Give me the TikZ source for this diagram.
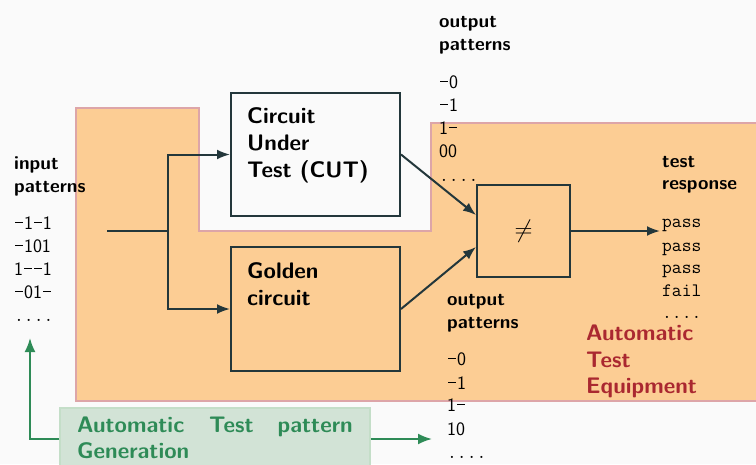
\documentclass[tikz,border=0pt]{standalone}
\usepackage{fontspec}
\usetikzlibrary{arrows.meta,calc}

\definecolor{bgc}{HTML}{FAFAFA}
\definecolor{atefill}{RGB}{252,205,148}
\definecolor{ateedge}{RGB}{221,165,168}
\definecolor{ink}{HTML}{23373B}
\definecolor{atetext}{RGB}{170,40,48}
\definecolor{atpgtext}{RGB}{46,139,87}
\definecolor{atpgfill}{RGB}{210,227,214}
\definecolor{atpgedge}{RGB}{196,222,200}

% a "don't care" dash of the width of a digit
\newcommand\dc{\makebox[0.52em]{\rule[0.3em]{0.4em}{0.07em}}}

\tikzset{
  heading/.style={anchor=base west, inner sep=0pt, text=black,
    font=\fontsize{19}{22}\selectfont\sffamily\bfseries},
  patline/.style={anchor=base west, inner sep=0pt, text=black,
    font=\fontsize{19}{22}\selectfont\sffamily},
  respline/.style={anchor=base west, inner sep=0pt, text=black,
    font=\fontsize{19}{22}\selectfont\ttfamily},
  boxtext/.style={anchor=base west, inner sep=0pt, text=black,
    font=\fontsize{22.5}{27}\selectfont\sffamily\bfseries},
  atetitle/.style={anchor=base west, inner sep=0pt, text=atetext,
    font=\fontsize{22.5}{27}\selectfont\sffamily\bfseries},
  atpgtitle/.style={inner sep=0pt, text=atpgtext,
    font=\fontsize{22.5}{27}\selectfont\sffamily\bfseries},
  block/.style={draw=ink, line width=2pt, rectangle, inner sep=0pt},
  wire/.style={draw=ink, line width=2pt},
  arr/.style={-{Latex[length=13pt,width=10pt]}},
  gwire/.style={draw=atpgtext, line width=2pt, -{Latex[length=14pt,width=11pt]}},
}

\begin{document}
\begin{tikzpicture}[x=1pt,y=-1pt]
\clip (0,0) rectangle (756,464);
\fill[bgc] (0,0) rectangle (756,464);
\useasboundingbox (0,0) rectangle (756,464);

% automatic test equipment region
\draw[ateedge, line width=1.5pt, fill=atefill]
  (76,108) -- (199,108) -- (199,231) -- (431,231) -- (431,123)
  -- (770,123) -- (770,401) -- (76,401) -- cycle;

% blocks
\node[block, fill=bgc, minimum width=169pt, minimum height=123pt] (cut) at (315.5,154.5) {};
\node[block, minimum width=169pt, minimum height=124pt] (gold) at (315.5,309) {};
\node[block, minimum width=93pt, minimum height=92pt] (cmp) at (523.5,231)
  {\fontsize{24}{24}\selectfont$\neq$};

\node[boxtext] (cutA) at (247,123) {Circuit};
\node[boxtext] (cutB) at (247,150) {Under};
\node[boxtext] (cutC) at (247,177) {Test (CUT)};
\node[boxtext] (goldA) at (247,278) {Golden};
\node[boxtext] (goldB) at (247,305) {circuit};

% input fan-out
\coordinate (inStart) at (107,231);
\coordinate (split) at (168,231);
\draw[wire] (inStart) -- (split);
\draw[wire, arr] (split) |- (cut.west);
\draw[wire, arr] (split) |- (gold.west);

% to comparator and out
\draw[wire, arr] (cut.east) -- ($(cmp.west)+(0,-16)$);
\draw[wire, arr] (gold.east) -- ($(cmp.west)+(0,16)$);
\coordinate (respIn) at (660,231);
\draw[wire, arr] (cmp.east) -- (respIn);

% input patterns
\node[heading] (inA) at (14,169) {input};
\node[heading] (inB) at (14,192) {patterns};
\node[patline] (in1) at (14,229) {\dc1\dc1};
\node[patline] (in2) at (14,252) {\dc101};
\node[patline] (in3) at (14,275) {1\dc\dc1};
\node[patline] (in4) at (14,298) {\dc01\dc};
\node[patline] (in5) at (14,321) {\ttfamily ....};

% output patterns of the CUT
\node[heading] (oA) at (439,27) {output};
\node[heading] (oB) at (439,50) {patterns};
\node[patline] (o1) at (439,88) {\dc0};
\node[patline] (o2) at (439,111) {\dc1};
\node[patline] (o3) at (439,134) {1\dc};
\node[patline] (o4) at (439,157) {00};
\node[patline] (o5) at (439,181) {\ttfamily ....};

% output patterns of the golden circuit
\node[heading] (gA) at (447,305) {output};
\node[heading] (gB) at (447,328) {patterns};
\node[patline] (g1) at (447,365) {\dc0};
\node[patline] (g2) at (447,389) {\dc1};
\node[patline] (g3) at (447,411) {1\dc};
\node[patline] (g4) at (447,435) {10};
\node[patline] (g5) at (447,458) {\ttfamily ....};

% test response
\node[heading] (rA) at (662,167) {test};
\node[heading] (rB) at (662,189) {response};
\node[respline] (r1) at (662,227) {pass};
\node[respline] (r2) at (662,251) {pass};
\node[respline] (r3) at (662,273) {pass};
\node[respline] (r4) at (662,296) {fail};
\node[respline] (r5) at (662,318) {....};

% equipment label
\node[atetitle] (ateA) at (586,340) {Automatic};
\node[atetitle] (ateB) at (586,367) {Test};
\node[atetitle] (ateC) at (586,393) {Equipment};

% pattern generation
\node[draw=atpgedge, fill=atpgfill, line width=1.5pt, inner sep=0pt,
      minimum width=310pt, minimum height=62pt] (atpg) at (215,439) {};
\node[atpgtitle, anchor=base west] (tA) at (77,432) {Automatic};
\node[atpgtitle, anchor=base west] (tB) at (209,432) {Test};
\node[atpgtitle, anchor=base east] (tC) at (353,432) {pattern};
\node[atpgtitle, anchor=base west] (tD) at (77,458) {Generation};
\coordinate (atpgUp) at (30,338);
\coordinate (atpgRight) at (432,439);
\draw[gwire] (atpg.west) -| (atpgUp);
\draw[gwire] (atpg.east) -- (atpgRight);
\end{tikzpicture}
\end{document}
